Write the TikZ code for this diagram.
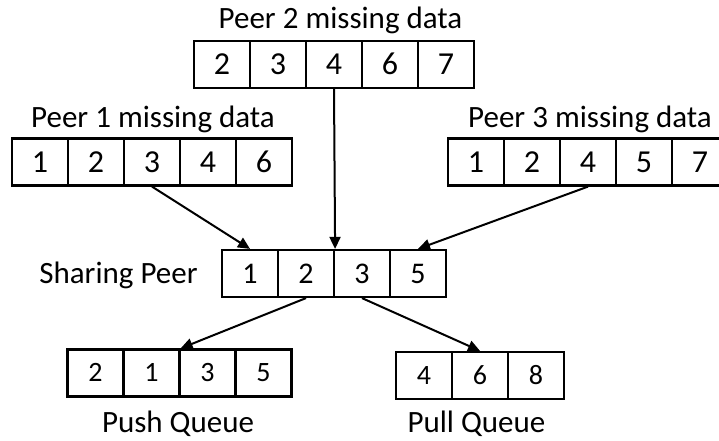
\documentclass[tikz,border=0pt]{standalone}
\usepackage{fontspec}
\setmainfont{Carlito}[RawFeature=+lnum]
\usetikzlibrary{arrows.meta}
\begin{document}
\begin{tikzpicture}[x=1pt,y=-1pt,
  cell/.style={draw, line width=2.2pt, minimum width=56pt, minimum height=47pt, inner sep=0pt, text height=20pt, text depth=0pt, font=\fontsize{32}{36}\selectfont},
  qcell/.style={cell, text height=17.5pt, font=\fontsize{28}{32}\selectfont},
  title/.style={anchor=base, inner sep=0pt, font=\fontsize{31}{36}\selectfont},
  lbl/.style={anchor=base, inner sep=0pt, font=\fontsize{31}{36}\selectfont},
  arr/.style={line width=2pt, -{Triangle[length=12pt,width=11pt]}}]
\useasboundingbox (0,0) rectangle (719,441);
\clip (0,0) rectangle (719,441);
% Peer 2
\node[title] (t2) at (340.5,29) {Peer 2 missing data};
\foreach \v [count=\i] in {2,3,4,6,7}
  \node[cell] (a\i) at (194+56*\i-28,64.5) {\v};
% Peer 1
\node[title] (t1) at (153,127) {Peer 1 missing data};
\foreach \v [count=\i] in {1,2,3,4,6}
  \node[cell] (b\i) at (12+56*\i-28,162) {\v};
% Peer 3
\node[title] (t3) at (590,127) {Peer 3 missing data};
\foreach \v [count=\i] in {1,2,4,5,7}
  \node[cell] (c\i) at (448+56*\i-28,162) {\v};
% Sharing peer
\node[lbl] (ts) at (118.5,283) {Sharing Peer};
\foreach \v [count=\i] in {1,2,3,5}
  \node[cell, text height=19pt, font=\fontsize{30}{34}\selectfont] (s\i) at (222+56*\i-28,273.5) {\v};
% Push queue
\foreach \v [count=\i] in {2,1,3,5}
  \node[qcell] (u\i) at (67.5+56*\i-28,373) {\v};
\node[lbl] (tu) at (178,432) {Push Queue};
% Pull queue
\foreach \v [count=\i] in {4,6,8}
  \node[qcell] (l\i) at (396+56*\i-28,375.5) {\v};
\node[lbl] (tl) at (476.5,432) {Pull Queue};
% arrows
\draw[arr] (b3.south) -- (s1.north);
\draw[arr] (a3.south) -- (s2.north east);
\draw[arr] (c3.south) -- (s4.north);
\draw[arr] (s2.south) -- (u2.north east);
\draw[arr] (s3.south) -- (l2.north);
\end{tikzpicture}
\end{document}
